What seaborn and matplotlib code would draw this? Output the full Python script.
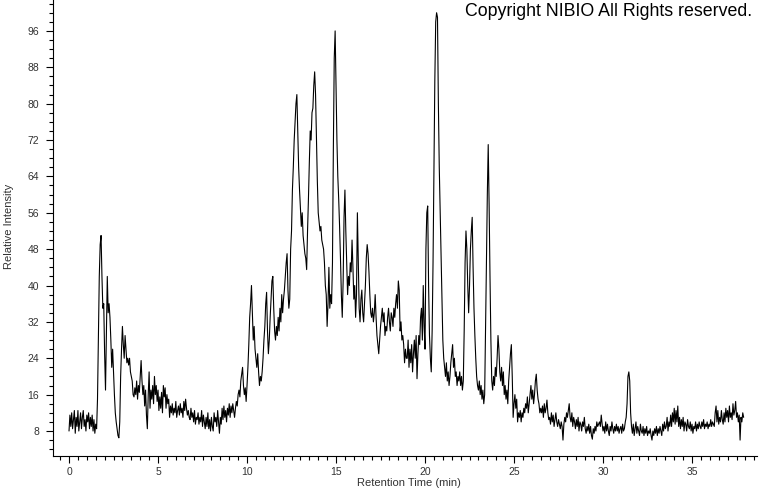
import matplotlib
matplotlib.use("Agg")
import matplotlib.pyplot as plt
import seaborn as sns
from matplotlib.ticker import MultipleLocator

# retention time (min), one row per half minute
rt_min = [
    0.00, 0.05, 0.10, 0.15, 0.20, 0.25, 0.30, 0.35, 0.40, 0.45,
    0.50, 0.55, 0.60, 0.65, 0.70, 0.75, 0.80, 0.85, 0.90, 0.95,
    1.00, 1.05, 1.10, 1.15, 1.20, 1.25, 1.30, 1.35, 1.40, 1.45,
    1.50, 1.55, 1.60, 1.65, 1.70, 1.75, 1.80, 1.85, 1.90, 1.95,
    2.00, 2.05, 2.10, 2.15, 2.20, 2.25, 2.30, 2.35, 2.40, 2.45,
    2.50, 2.55, 2.60, 2.65, 2.70, 2.75, 2.80, 2.85, 2.90, 2.95,
    3.00, 3.05, 3.10, 3.15, 3.20, 3.25, 3.30, 3.35, 3.40, 3.45,
    3.50, 3.55, 3.60, 3.65, 3.70, 3.75, 3.80, 3.85, 3.90, 3.95,
    4.00, 4.05, 4.10, 4.15, 4.20, 4.25, 4.30, 4.35, 4.40, 4.45,
    4.50, 4.55, 4.60, 4.65, 4.70, 4.75, 4.80, 4.85, 4.90, 4.95,
    5.00, 5.05, 5.10, 5.15, 5.20, 5.25, 5.30, 5.35, 5.40, 5.45,
    5.50, 5.55, 5.60, 5.65, 5.70, 5.75, 5.80, 5.85, 5.90, 5.95,
    6.00, 6.05, 6.10, 6.15, 6.20, 6.25, 6.30, 6.35, 6.40, 6.45,
    6.50, 6.55, 6.60, 6.65, 6.70, 6.75, 6.80, 6.85, 6.90, 6.95,
    7.00, 7.05, 7.10, 7.15, 7.20, 7.25, 7.30, 7.35, 7.40, 7.45,
    7.50, 7.55, 7.60, 7.65, 7.70, 7.75, 7.80, 7.85, 7.90, 7.95,
    8.00, 8.05, 8.10, 8.15, 8.20, 8.25, 8.30, 8.35, 8.40, 8.45,
    8.50, 8.55, 8.60, 8.65, 8.70, 8.75, 8.80, 8.85, 8.90, 8.95,
    9.00, 9.05, 9.10, 9.15, 9.20, 9.25, 9.30, 9.35, 9.40, 9.45,
    9.50, 9.55, 9.60, 9.65, 9.70, 9.75, 9.80, 9.85, 9.90, 9.95,
    10.00, 10.05, 10.10, 10.15, 10.20, 10.25, 10.30, 10.35, 10.40, 10.45,
    10.50, 10.55, 10.60, 10.65, 10.70, 10.75, 10.80, 10.85, 10.90, 10.95,
    11.00, 11.05, 11.10, 11.15, 11.20, 11.25, 11.30, 11.35, 11.40, 11.45,
    11.50, 11.55, 11.60, 11.65, 11.70, 11.75, 11.80, 11.85, 11.90, 11.95,
    12.00, 12.05, 12.10, 12.15, 12.20, 12.25, 12.30, 12.35, 12.40, 12.45,
    12.50, 12.55, 12.60, 12.65, 12.70, 12.75, 12.80, 12.85, 12.90, 12.95,
    13.00, 13.05, 13.10, 13.15, 13.20, 13.25, 13.30, 13.35, 13.40, 13.45,
    13.50, 13.55, 13.60, 13.65, 13.70, 13.75, 13.80, 13.85, 13.90, 13.95,
    14.00, 14.05, 14.10, 14.15, 14.20, 14.25, 14.30, 14.35, 14.40, 14.45,
    14.50, 14.55, 14.60, 14.65, 14.70, 14.75, 14.80, 14.85, 14.90, 14.95,
    15.00, 15.05, 15.10, 15.15, 15.20, 15.25, 15.30, 15.35, 15.40, 15.45,
    15.50, 15.55, 15.60, 15.65, 15.70, 15.75, 15.80, 15.85, 15.90, 15.95,
    16.00, 16.05, 16.10, 16.15, 16.20, 16.25, 16.30, 16.35, 16.40, 16.45,
    16.50, 16.55, 16.60, 16.65, 16.70, 16.75, 16.80, 16.85, 16.90, 16.95,
    17.00, 17.05, 17.10, 17.15, 17.20, 17.25, 17.30, 17.35, 17.40, 17.45,
    17.50, 17.55, 17.60, 17.65, 17.70, 17.75, 17.80, 17.85, 17.90, 17.95,
    18.00, 18.05, 18.10, 18.15, 18.20, 18.25, 18.30, 18.35, 18.40, 18.45,
    18.50, 18.55, 18.60, 18.65, 18.70, 18.75, 18.80, 18.85, 18.90, 18.95,
    19.00, 19.05, 19.10, 19.15, 19.20, 19.25, 19.30, 19.35, 19.40, 19.45,
    19.50, 19.55, 19.60, 19.65, 19.70, 19.75, 19.80, 19.85, 19.90, 19.95,
    20.00, 20.05, 20.10, 20.15, 20.20, 20.25, 20.30, 20.35, 20.40, 20.45,
    20.50, 20.55, 20.60, 20.65, 20.70, 20.75, 20.80, 20.85, 20.90, 20.95,
    21.00, 21.05, 21.10, 21.15, 21.20, 21.25, 21.30, 21.35, 21.40, 21.45,
    21.50, 21.55, 21.60, 21.65, 21.70, 21.75, 21.80, 21.85, 21.90, 21.95,
    22.00, 22.05, 22.10, 22.15, 22.20, 22.25, 22.30, 22.35, 22.40, 22.45,
    22.50, 22.55, 22.60, 22.65, 22.70, 22.75, 22.80, 22.85, 22.90, 22.95,
    23.00, 23.05, 23.10, 23.15, 23.20, 23.25, 23.30, 23.35, 23.40, 23.45,
    23.50, 23.55, 23.60, 23.65, 23.70, 23.75, 23.80, 23.85, 23.90, 23.95,
    24.00, 24.05, 24.10, 24.15, 24.20, 24.25, 24.30, 24.35, 24.40, 24.45,
    24.50, 24.55, 24.60, 24.65, 24.70, 24.75, 24.80, 24.85, 24.90, 24.95,
    25.00, 25.05, 25.10, 25.15, 25.20, 25.25, 25.30, 25.35, 25.40, 25.45,
    25.50, 25.55, 25.60, 25.65, 25.70, 25.75, 25.80, 25.85, 25.90, 25.95,
    26.00, 26.05, 26.10, 26.15, 26.20, 26.25, 26.30, 26.35, 26.40, 26.45,
    26.50, 26.55, 26.60, 26.65, 26.70, 26.75, 26.80, 26.85, 26.90, 26.95,
    27.00, 27.05, 27.10, 27.15, 27.20, 27.25, 27.30, 27.35, 27.40, 27.45,
    27.50, 27.55, 27.60, 27.65, 27.70, 27.75, 27.80, 27.85, 27.90, 27.95,
    28.00, 28.05, 28.10, 28.15, 28.20, 28.25, 28.30, 28.35, 28.40, 28.45,
    28.50, 28.55, 28.60, 28.65, 28.70, 28.75, 28.80, 28.85, 28.90, 28.95,
    29.00, 29.05, 29.10, 29.15, 29.20, 29.25, 29.30, 29.35, 29.40, 29.45,
    29.50, 29.55, 29.60, 29.65, 29.70, 29.75, 29.80, 29.85, 29.90, 29.95,
    30.00, 30.05, 30.10, 30.15, 30.20, 30.25, 30.30, 30.35, 30.40, 30.45,
    30.50, 30.55, 30.60, 30.65, 30.70, 30.75, 30.80, 30.85, 30.90, 30.95,
    31.00, 31.05, 31.10, 31.15, 31.20, 31.25, 31.30, 31.35, 31.40, 31.45,
    31.50, 31.55, 31.60, 31.65, 31.70, 31.75, 31.80, 31.85, 31.90, 31.95,
    32.00, 32.05, 32.10, 32.15, 32.20, 32.25, 32.30, 32.35, 32.40, 32.45,
    32.50, 32.55, 32.60, 32.65, 32.70, 32.75, 32.80, 32.85, 32.90, 32.95,
    33.00, 33.05, 33.10, 33.15, 33.20, 33.25, 33.30, 33.35, 33.40, 33.45,
    33.50, 33.55, 33.60, 33.65, 33.70, 33.75, 33.80, 33.85, 33.90, 33.95,
    34.00, 34.05, 34.10, 34.15, 34.20, 34.25, 34.30, 34.35, 34.40, 34.45,
    34.50, 34.55, 34.60, 34.65, 34.70, 34.75, 34.80, 34.85, 34.90, 34.95,
    35.00, 35.05, 35.10, 35.15, 35.20, 35.25, 35.30, 35.35, 35.40, 35.45,
    35.50, 35.55, 35.60, 35.65, 35.70, 35.75, 35.80, 35.85, 35.90, 35.95,
    36.00, 36.05, 36.10, 36.15, 36.20, 36.25, 36.30, 36.35, 36.40, 36.45,
    36.50, 36.55, 36.60, 36.65, 36.70, 36.75, 36.80, 36.85, 36.90, 36.95,
    37.00, 37.05, 37.10, 37.15, 37.20, 37.25, 37.30, 37.35, 37.40, 37.45,
    37.50, 37.55, 37.60, 37.65, 37.70, 37.75, 37.80, 37.85, 37.90,
]

# relative intensity, same rows as rt_min
intensity = [
    8.0, 11.5, 9.0, 12.0, 8.5, 10.5, 12.5, 7.5, 11.0, 9.0,
    12.5, 8.0, 10.0, 12.0, 8.5, 11.0, 12.5, 9.0, 10.5, 8.0,
    11.5, 10.0, 12.0, 8.5, 11.0, 9.0, 11.5, 8.0, 10.5, 7.5,
    9.5, 8.5, 15.0, 28.0, 42.0, 49.0, 51.0, 42.0, 35.0, 36.0,
    25.0, 17.0, 30.0, 42.0, 34.0, 36.0, 33.0, 28.0, 22.0, 26.0,
    21.0, 16.0, 12.0, 10.0, 8.5, 7.0, 6.5, 10.0, 20.0, 26.0,
    31.0, 27.0, 24.0, 29.0, 26.0, 23.0, 24.0, 22.5, 24.0, 21.0,
    20.0, 19.0, 16.0, 15.5, 17.5, 16.0, 19.0, 15.0, 18.0, 16.5,
    20.0, 23.5, 19.0, 16.0, 18.0, 13.5, 17.0, 11.5, 8.5, 16.0,
    21.0, 13.0, 17.0, 15.0, 18.0, 14.0, 20.0, 16.0, 18.0, 14.5,
    17.0, 12.5, 15.5, 13.0, 16.5, 12.0, 18.0, 15.5, 17.5, 13.0,
    16.0, 14.0, 15.0, 11.0, 13.5, 12.0, 14.0, 11.5, 13.0, 12.0,
    14.5, 11.0, 12.5, 13.5, 11.5, 14.0, 12.0, 13.0, 11.0, 14.5,
    12.5, 15.0, 13.0, 11.5, 12.5, 11.0, 10.5, 13.0, 11.0, 12.0,
    10.0, 12.5, 9.5, 11.0, 10.5, 12.0, 9.5, 11.0, 10.0, 12.5,
    9.0, 11.5, 10.0, 8.5, 11.0, 9.0, 12.0, 8.5, 10.5, 8.0,
    11.0, 9.0, 8.0, 12.0, 10.0, 11.0, 9.0, 12.5, 10.0, 7.5,
    11.0, 9.5, 13.0, 10.5, 13.5, 11.0, 12.5, 10.0, 13.0, 11.5,
    14.0, 11.0, 13.5, 12.0, 14.0, 12.5, 11.0, 13.0, 14.5, 13.5,
    16.0, 17.0, 15.5, 19.0, 20.5, 22.0, 18.0, 16.0, 17.5, 14.5,
    18.0, 22.0, 27.0, 33.0, 36.0, 40.0, 34.0, 28.0, 31.0, 26.0,
    24.0, 22.0, 25.0, 21.0, 18.0, 20.0, 19.0, 21.0, 24.0, 28.0,
    31.0, 36.0, 38.5, 30.0, 25.0, 28.0, 33.0, 37.0, 41.0, 42.0,
    35.0, 30.0, 28.0, 31.0, 29.0, 33.0, 30.0, 35.0, 32.0, 38.0,
    34.0, 37.0, 39.0, 42.0, 45.0, 47.0, 39.0, 35.0, 37.0, 48.0,
    52.0, 61.0, 66.0, 72.0, 76.0, 80.0, 82.0, 74.0, 66.0, 61.0,
    57.0, 53.0, 56.0, 51.0, 49.0, 47.0, 46.0, 43.5, 52.0, 59.0,
    67.0, 74.0, 72.0, 78.0, 79.0, 84.0, 87.0, 82.0, 72.0, 63.0,
    56.0, 54.0, 52.0, 53.0, 50.0, 49.0, 48.0, 45.0, 40.0, 38.0,
    31.0, 36.0, 44.0, 35.0, 38.0, 36.0, 45.0, 70.0, 90.0, 96.0,
    84.0, 72.0, 64.0, 59.0, 53.0, 46.0, 38.0, 33.0, 41.0, 55.0,
    61.0, 52.0, 45.0, 38.0, 42.0, 40.0, 45.0, 43.0, 50.0, 44.0,
    37.0, 40.0, 33.0, 38.0, 56.0, 45.0, 35.0, 32.0, 37.0, 39.0,
    34.0, 32.0, 36.0, 40.0, 46.0, 49.0, 47.0, 43.0, 38.0, 34.0,
    33.0, 35.0, 32.0, 34.0, 38.0, 33.0, 29.0, 27.0, 25.0, 28.0,
    31.0, 33.0, 35.0, 32.0, 34.0, 29.0, 31.0, 30.0, 33.0, 35.0,
    32.0, 30.0, 34.0, 33.0, 31.0, 35.0, 33.0, 36.0, 38.0, 35.0,
    41.0, 39.0, 30.0, 32.0, 28.0, 29.0, 27.0, 23.0, 26.0, 24.0,
    24.0, 28.0, 22.0, 26.0, 23.0, 27.0, 21.0, 25.0, 28.0, 24.0,
    29.0, 19.5, 25.0, 29.0, 27.0, 33.0, 35.0, 28.0, 40.0, 31.0,
    26.0, 48.0, 56.0, 57.5, 40.0, 29.0, 24.0, 21.0, 30.0, 45.0,
    66.0, 85.0, 98.0, 100.0, 99.0, 80.0, 66.0, 57.0, 47.0, 37.0,
    28.0, 24.0, 22.0, 20.0, 23.0, 19.0, 21.0, 18.0, 20.0, 23.0,
    25.0, 27.0, 22.0, 24.0, 20.0, 21.0, 18.0, 20.0, 19.0, 21.0,
    18.0, 20.0, 17.0, 19.0, 30.0, 45.0, 52.0, 48.0, 40.0, 34.0,
    40.0, 48.0, 52.0, 55.0, 44.0, 35.0, 29.0, 24.0, 20.0, 18.0,
    17.0, 19.0, 16.0, 18.0, 15.0, 17.0, 14.0, 16.0, 30.0, 45.0,
    60.0, 71.0, 58.0, 42.0, 28.0, 19.0, 17.0, 20.0, 18.0, 22.0,
    20.0, 24.0, 29.0, 26.0, 21.0, 19.0, 22.0, 18.0, 21.0, 16.0,
    18.0, 15.0, 17.0, 14.0, 19.0, 22.0, 25.0, 27.0, 20.0, 11.0,
    14.0, 16.0, 13.0, 15.0, 10.0, 12.0, 11.0, 12.5, 10.0, 12.0,
    11.0, 13.0, 12.0, 14.0, 13.0, 15.5, 12.0, 14.0, 16.0, 18.0,
    15.0, 17.0, 14.0, 16.0, 19.0, 20.5, 17.0, 15.0, 14.0, 12.0,
    13.0, 12.0, 13.5, 11.0, 14.0, 12.0, 13.0, 14.8, 12.0, 10.5,
    11.0, 9.5, 12.0, 10.0, 11.5, 9.0, 10.5, 12.0, 10.0, 9.0,
    10.5, 9.5, 8.5, 10.0, 9.0, 6.0, 9.5, 11.0, 10.0, 12.0,
    11.0, 12.5, 14.0, 11.0, 10.0, 12.0, 9.0, 11.0, 10.0, 8.5,
    10.5, 9.0, 11.0, 8.0, 10.0, 9.5, 8.0, 10.0, 9.0, 11.0,
    8.5, 7.5, 9.0, 8.0, 9.5, 7.5, 9.0, 7.0, 6.2, 8.5,
    7.5, 9.0, 8.0, 10.0, 9.0, 9.5, 10.0, 9.0, 11.5, 9.5,
    8.0, 9.0, 7.5, 10.0, 8.0, 9.5, 8.0, 7.0, 9.0, 8.0,
    10.0, 8.5, 7.5, 9.0, 8.0, 9.5, 8.0, 9.0, 7.5, 8.5,
    9.0, 7.5, 9.5, 8.0, 8.5, 10.0, 11.0, 14.0, 20.0, 21.0,
    19.0, 12.0, 9.0, 7.5, 9.5, 7.0, 8.5, 10.0, 7.5, 9.0,
    8.0, 7.0, 9.5, 8.0, 7.5, 9.0, 7.0, 8.5, 7.5, 9.0,
    7.0, 8.0, 7.5, 8.5, 7.0, 6.0, 8.0, 7.0, 8.5, 7.5,
    9.0, 7.0, 8.5, 7.5, 9.0, 8.0, 7.0, 9.5, 8.0, 10.0,
    8.5, 9.0, 11.0, 8.0, 10.0, 9.0, 11.5, 9.0, 12.0, 10.0,
    13.0, 9.5, 12.5, 10.0, 13.5, 9.0, 11.0, 8.5, 10.5, 9.0,
    11.0, 8.0, 10.0, 9.5, 8.0, 10.5, 9.0, 8.5, 10.0, 8.0,
    9.5, 7.5, 9.0, 8.5, 10.0, 8.0, 9.5, 8.5, 10.0, 9.0,
    8.5, 10.0, 9.0, 10.5, 8.5, 9.5, 9.0, 10.0, 8.5, 9.5,
    9.0, 10.5, 9.0, 10.0, 9.5, 9.0, 12.0, 13.5, 10.0, 12.5,
    9.5, 11.0, 10.0, 12.5, 10.5, 9.5, 12.0, 10.0, 13.0, 11.0,
    12.5, 10.0, 13.5, 11.0, 12.0, 10.5, 14.0, 11.5, 12.5, 14.5,
    11.0, 12.0, 10.0, 11.5, 6.0, 11.0, 10.0, 12.0, 11.0,
]

x_ticks = [0, 5, 10, 15, 20, 25, 30, 35]
y_ticks = [8, 16, 24, 32, 40, 48, 56, 64, 72, 80, 88, 96]

sns.set_style("ticks")
plt.rcParams["font.family"] = ["Liberation Sans", "DejaVu Sans"]

fig = plt.figure(figsize=(7.6, 4.92), dpi=100)
ax = fig.add_axes([53 / 760, 36 / 492, 704 / 760, 456 / 492])

sns.lineplot(x=rt_min, y=intensity, color="black", linewidth=0.8,
             estimator=None, sort=False, ax=ax)

ax.set_xlim(-0.9, 38.65)
ax.set_ylim(2.5, 102.8)
ax.set_xticks(x_ticks)
ax.set_yticks(y_ticks)
ax.xaxis.set_minor_locator(MultipleLocator(0.5))
ax.yaxis.set_minor_locator(MultipleLocator(2))

ax.tick_params(which="major", length=5, width=0.8, color="black",
               labelsize=7.5, labelcolor="#333333", pad=3)
ax.tick_params(which="minor", length=3, width=0.8, color="black")
ax.tick_params(axis="y", which="major", pad=5)

sns.despine(ax=ax)
for s in ["left", "bottom"]:
    ax.spines[s].set_color("black")
    ax.spines[s].set_linewidth(0.8)

ax.set_xlabel("Retention Time (min)", fontsize=8, color="#333333")
ax.set_ylabel("Relative Intensity", fontsize=8, color="#333333")
ax.xaxis.set_label_coords(0.506, -0.048)
ax.yaxis.set_label_coords(-0.055, 0.504)

# watermark in the top right corner
fig.text(0.99, 0.993, "Copyright NIBIO All Rights reserved.", ha="right", va="top",
         fontsize=12.8, color="black")

fig.savefig("out.png", dpi=100)
